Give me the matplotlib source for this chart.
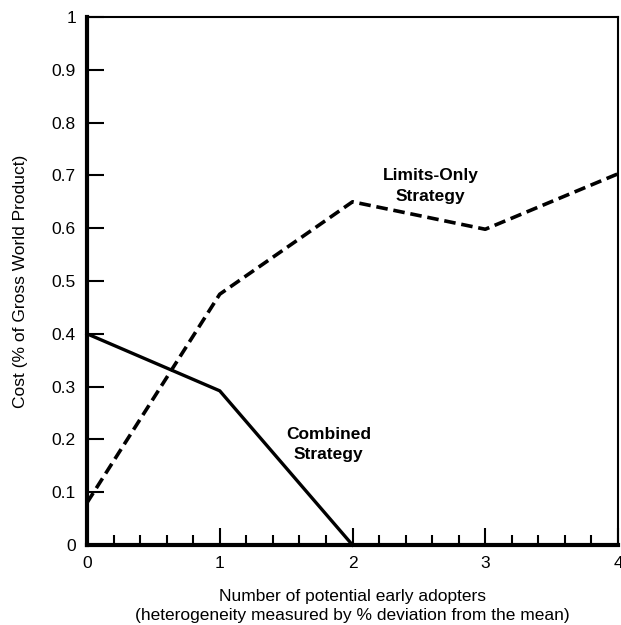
"""Cost of limits-only vs combined strategy against number of early adopters."""

from matplotlib import pyplot
from matplotlib.ticker import MultipleLocator

# Data.
adopters = [0, 1, 2, 3, 4]
limits_only = [0.08, 0.475, 0.65, 0.598, 0.703]
combined_x = [0, 1, 2]
combined = [0.40, 0.292, 0.0]
yticks = [0, 0.1, 0.2, 0.3, 0.4, 0.5, 0.6, 0.7, 0.8, 0.9, 1]
ytick_labels = ['0', '0.1', '0.2', '0.3', '0.4', '0.5', '0.6', '0.7',
                '0.8', '0.9', '1']

pyplot.rc('font', family=['Liberation Sans', 'DejaVu Sans'], size=12.5)

fig = pyplot.figure(figsize=(6.21, 6.25), dpi=100)
W, H = 621, 625
ax = fig.add_axes([87 / W, 1 - 545 / H, (618 - 87) / W, (545 - 17) / H])

ax.plot(adopters, limits_only, color='black', linewidth=2.6,
        linestyle=(0, (3.2, 1.6)), solid_capstyle='butt', clip_on=False)
ax.plot(combined_x, combined, color='black', linewidth=2.4, clip_on=False)

ax.text(2.59, 0.68, 'Limits-Only\nStrategy', ha='center', va='center',
        fontweight='bold', linespacing=1.45)
ax.text(1.82, 0.19, 'Combined\nStrategy', ha='center', va='center',
        fontweight='bold', linespacing=1.45)

ax.set_xlim(0, 4)
ax.set_ylim(0, 1)
ax.set_xticks(adopters)
ax.xaxis.set_minor_locator(MultipleLocator(0.2))
ax.set_yticks(yticks)
ax.set_yticklabels(ytick_labels)
ax.tick_params(which='major', direction='in', length=12, width=1.5,
               pad=8, labelsize=12.5)
ax.tick_params(which='minor', direction='in', length=7, width=1.5)
ax.tick_params(axis='x', which='both', top=False)
ax.tick_params(axis='y', which='both', right=False)

ax.spines['left'].set_linewidth(3.0)
ax.spines['bottom'].set_linewidth(3.0)
ax.spines['top'].set_linewidth(1.5)
ax.spines['right'].set_linewidth(1.5)

ax.set_xlabel('Number of potential early adopters\n'
              '(heterogeneity measured by % deviation from the mean)',
              labelpad=13, linespacing=1.3)
ax.set_ylabel('Cost (% of Gross World Product)', labelpad=17)

fig.savefig('out.png', dpi=100)
